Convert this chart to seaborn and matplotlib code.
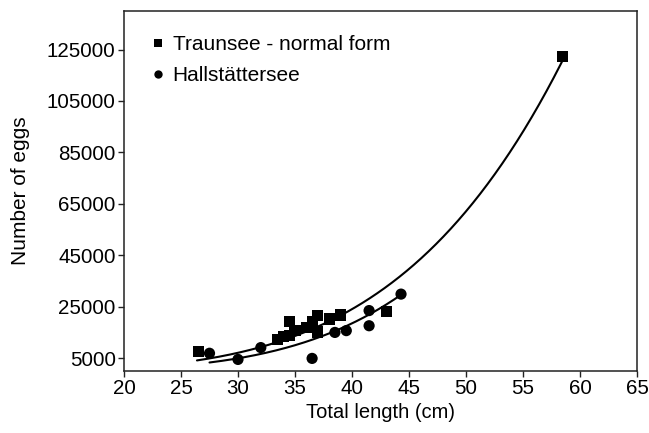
import numpy as np
import pandas as pd
import matplotlib
matplotlib.use("Agg")
import matplotlib.pyplot as plt
import seaborn as sns

# Data
traun_len = [26.5, 33.5, 34.0, 34.5, 34.5, 35.0, 36.0, 36.5, 37.0, 37.0, 38.0, 39.0, 43.0, 58.5]
traun_eggs = [7500, 12400, 13500, 13800, 19400, 15700, 17000, 19300, 21500, 15200, 20200, 21800, 23100, 122200]
hall_len = [27.5, 30.0, 32.0, 36.5, 38.5, 39.5, 41.5, 41.5, 44.3]
hall_eggs = [6900, 4500, 9100, 4900, 15000, 15700, 23500, 17600, 29900]

# Power-law fit curves: eggs = ref_eggs * (len / ref_len) ** exponent
traun_fit = {"ref_len": 58.5, "ref_eggs": 121000, "exponent": 4.25, "range": (26.4, 58.5)}
hall_fit = {"ref_len": 44.06, "ref_eggs": 28900, "exponent": 4.6, "range": (27.5, 44.1)}

x_ticks = [20, 25, 30, 35, 40, 45, 50, 55, 60, 65]
y_ticks = [5000, 25000, 45000, 65000, 85000, 105000, 125000]

sns.set_theme(style="ticks", rc={"text.color": "black", "axes.labelcolor": "black",
                                 "xtick.color": "black", "ytick.color": "black",
                                 "axes.edgecolor": "#222222"})
plt.rcParams['font.family'] = ['Liberation Sans', 'DejaVu Sans']

fig = plt.figure(figsize=(6.49, 4.33), dpi=100)
ax = fig.add_axes([124/649, 1-371/433, (637-124)/649, (371-11)/433])

df = pd.concat([
    pd.DataFrame({"len": traun_len, "eggs": traun_eggs, "group": "Traunsee - normal form"}),
    pd.DataFrame({"len": hall_len, "eggs": hall_eggs, "group": "Hallstättersee"}),
])

sns.scatterplot(data=df, x="len", y="eggs", style="group",
                markers={"Traunsee - normal form": "s", "Hallstättersee": "o"},
                color="black", s=65, edgecolor="black", linewidth=0, ax=ax, zorder=3)

for fit in (traun_fit, hall_fit):
    xs = np.linspace(fit["range"][0], fit["range"][1], 200)
    ys = fit["ref_eggs"] * (xs / fit["ref_len"]) ** fit["exponent"]
    sns.lineplot(x=xs, y=ys, color="black", linewidth=1.5, ax=ax, legend=False)

ax.set_xlim(20, 65)
ax.set_ylim(0, 140000)
ax.set_xticks(x_ticks)
ax.set_yticks(y_ticks)
ax.set_xlabel("Total length (cm)", fontsize=14.5, labelpad=3)
ax.set_ylabel("Number of eggs", fontsize=15, labelpad=12)
ax.tick_params(labelsize=14.8, length=4, width=1, color="#222222", pad=2)
for sp in ax.spines.values():
    sp.set_visible(True)
    sp.set_linewidth(1.1)
    sp.set_color("#222222")

leg = ax.legend(loc="upper left", frameon=False, fontsize=15, handletextpad=0.2,
                borderaxespad=0, borderpad=0, labelspacing=0.56, handlelength=1.0,
                bbox_to_anchor=(0.046, 0.932))
for h in leg.legend_handles:
    h.set_markersize(6)

fig.savefig("out.png", dpi=100)
